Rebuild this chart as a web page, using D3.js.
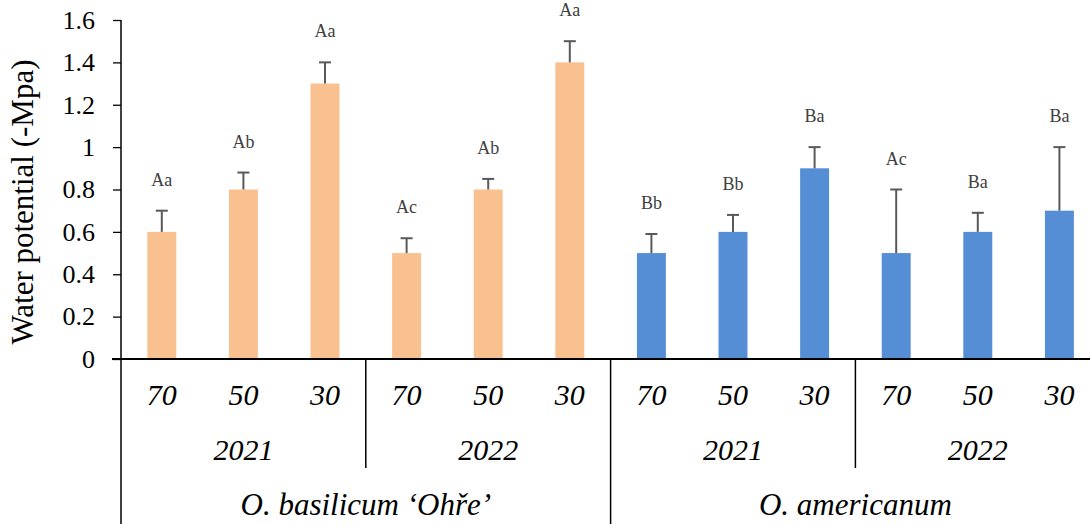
<!DOCTYPE html>
<html>
<head>
<meta charset="utf-8">
<script src="https://cdn.jsdelivr.net/npm/d3@7"></script>
<style>
  body { margin: 0; background: #fff; }
</style>
</head>
<body>
<svg id="chart"></svg>
<script>
// chart data
const species = ["O. basilicum \u2018Ohře\u2019", "O. americanum"];
const years = ["2021", "2022"];
const levels = ["70", "50", "30"];
const means = [0.6, 0.8, 1.3, 0.5, 0.8, 1.4, 0.5, 0.6, 0.9, 0.5, 0.6, 0.7];
const errors = [0.1, 0.08, 0.1, 0.07, 0.05, 0.1, 0.09, 0.08, 0.1, 0.3, 0.09, 0.3];
const letters = ["Aa", "Ab", "Aa", "Ac", "Ab", "Aa", "Bb", "Bb", "Ba", "Ac", "Ba", "Ba"];
const yTicks = [0, 0.2, 0.4, 0.6, 0.8, 1, 1.2, 1.4, 1.6];

// chart variables
const width = 1090;
const height = 524;
const plotLeft = 121;
const step = 81.6;
const plotTop = 20;
const plotBottom = 359;
const colors = ["#F9C190", "#558ED5"];
const serif = "Liberation Serif";

const svg = d3.select("#chart").attr("width", width).attr("height", height);

// build rows: one per bar
const rows = means.map((m, i) => ({
  i: i,
  mean: m,
  err: errors[i],
  letter: letters[i],
  level: levels[i % 3],
  sp: Math.floor(i / 6),
}));

// scales
const xScale = d3
  .scaleBand()
  .domain(rows.map((d) => d.i))
  .range([plotLeft, plotLeft + step * rows.length])
  .paddingInner(0.645)
  .paddingOuter(0.3225);

const yScale = d3.scaleLinear().domain([0, 1.6]).range([plotBottom, plotTop]);

// y-axis
const yAxis = svg
  .append("g")
  .attr("transform", `translate(${plotLeft}, 0)`)
  .call(
    d3
      .axisLeft(yScale)
      .tickValues(yTicks)
      .tickSize(8)
      .tickPadding(18)
      .tickFormat((d) => d3.format("")(d))
  );
yAxis.select(".domain").remove();
yAxis.selectAll(".tick line").attr("stroke", "#000").attr("stroke-width", 1.3);
yAxis
  .selectAll(".tick text")
  .attr("fill", "#000")
  .attr("font-family", serif)
  .attr("font-size", 26);

// y-axis title
svg
  .append("text")
  .attr("transform", `translate(33, 202) rotate(-90)`)
  .attr("text-anchor", "middle")
  .attr("font-family", serif)
  .attr("font-size", 31)
  .text("Water potential (-Mpa)");

// bars
svg
  .selectAll("rect.bar")
  .data(rows)
  .enter()
  .append("rect")
  .attr("class", "bar")
  .attr("x", (d) => xScale(d.i))
  .attr("width", xScale.bandwidth())
  .attr("y", (d) => yScale(d.mean))
  .attr("height", (d) => yScale(0) - yScale(d.mean))
  .attr("fill", (d) => colors[d.sp]);

// error bars
const eb = svg.selectAll("g.err").data(rows).enter().append("g").attr("class", "err");
eb.append("line")
  .attr("x1", (d) => xScale(d.i) + xScale.bandwidth() / 2)
  .attr("x2", (d) => xScale(d.i) + xScale.bandwidth() / 2)
  .attr("y1", (d) => yScale(d.mean))
  .attr("y2", (d) => yScale(d.mean + d.err))
  .attr("stroke", "#595959")
  .attr("stroke-width", 2);
eb.append("line")
  .attr("x1", (d) => xScale(d.i) + xScale.bandwidth() / 2 - 6)
  .attr("x2", (d) => xScale(d.i) + xScale.bandwidth() / 2 + 6)
  .attr("y1", (d) => yScale(d.mean + d.err))
  .attr("y2", (d) => yScale(d.mean + d.err))
  .attr("stroke", "#595959")
  .attr("stroke-width", 2);

// letter labels
svg
  .selectAll("text.letter")
  .data(rows)
  .enter()
  .append("text")
  .attr("class", "letter")
  .attr("x", (d) => xScale(d.i) + xScale.bandwidth() / 2)
  .attr("y", (d) => yScale(d.mean + d.err) - 25)
  .attr("text-anchor", "middle")
  .attr("fill", "#404040")
  .attr("font-family", serif)
  .attr("font-size", 18)
  .text((d) => d.letter);

// x-axis line and category frame
svg
  .append("line")
  .attr("x1", 112)
  .attr("x2", width)
  .attr("y1", plotBottom)
  .attr("y2", plotBottom)
  .attr("stroke", "#000")
  .attr("stroke-width", 2);

svg
  .append("line")
  .attr("x1", plotLeft)
  .attr("x2", plotLeft)
  .attr("y1", plotTop)
  .attr("y2", height)
  .attr("stroke", "#000")
  .attr("stroke-width", 1.5);

// level labels
svg
  .selectAll("text.level")
  .data(rows)
  .enter()
  .append("text")
  .attr("class", "level")
  .attr("x", (d) => xScale(d.i) + xScale.bandwidth() / 2)
  .attr("y", 405)
  .attr("text-anchor", "middle")
  .attr("font-family", serif)
  .attr("font-size", 30)
  .attr("font-style", "italic")
  .text((d) => d.level);

// year labels and dividers
const yearGroups = d3.range(4).map((g) => ({ g: g, name: years[g % 2] }));
svg
  .selectAll("text.year")
  .data(yearGroups)
  .enter()
  .append("text")
  .attr("class", "year")
  .attr("x", (d) => plotLeft + step * (d.g * 3 + 1.5))
  .attr("y", 460)
  .attr("text-anchor", "middle")
  .attr("font-family", serif)
  .attr("font-size", 30)
  .attr("font-style", "italic")
  .text((d) => d.name);

svg
  .selectAll("line.ydiv")
  .data(yearGroups.filter((d) => d.g > 0))
  .enter()
  .append("line")
  .attr("class", "ydiv")
  .attr("x1", (d) => plotLeft + step * d.g * 3)
  .attr("x2", (d) => plotLeft + step * d.g * 3)
  .attr("y1", plotBottom)
  .attr("y2", (d) => (d.g === 2 ? height : 468))
  .attr("stroke", "#000")
  .attr("stroke-width", 1.5);

// species labels
svg
  .selectAll("text.species")
  .data(species)
  .enter()
  .append("text")
  .attr("class", "species")
  .attr("x", (d, i) => plotLeft + step * (i * 6 + 3))
  .attr("y", 515)
  .attr("text-anchor", "middle")
  .attr("font-family", serif)
  .attr("font-size", 31)
  .attr("font-style", "italic")
  .text((d) => d);
</script>
</body>
</html>
